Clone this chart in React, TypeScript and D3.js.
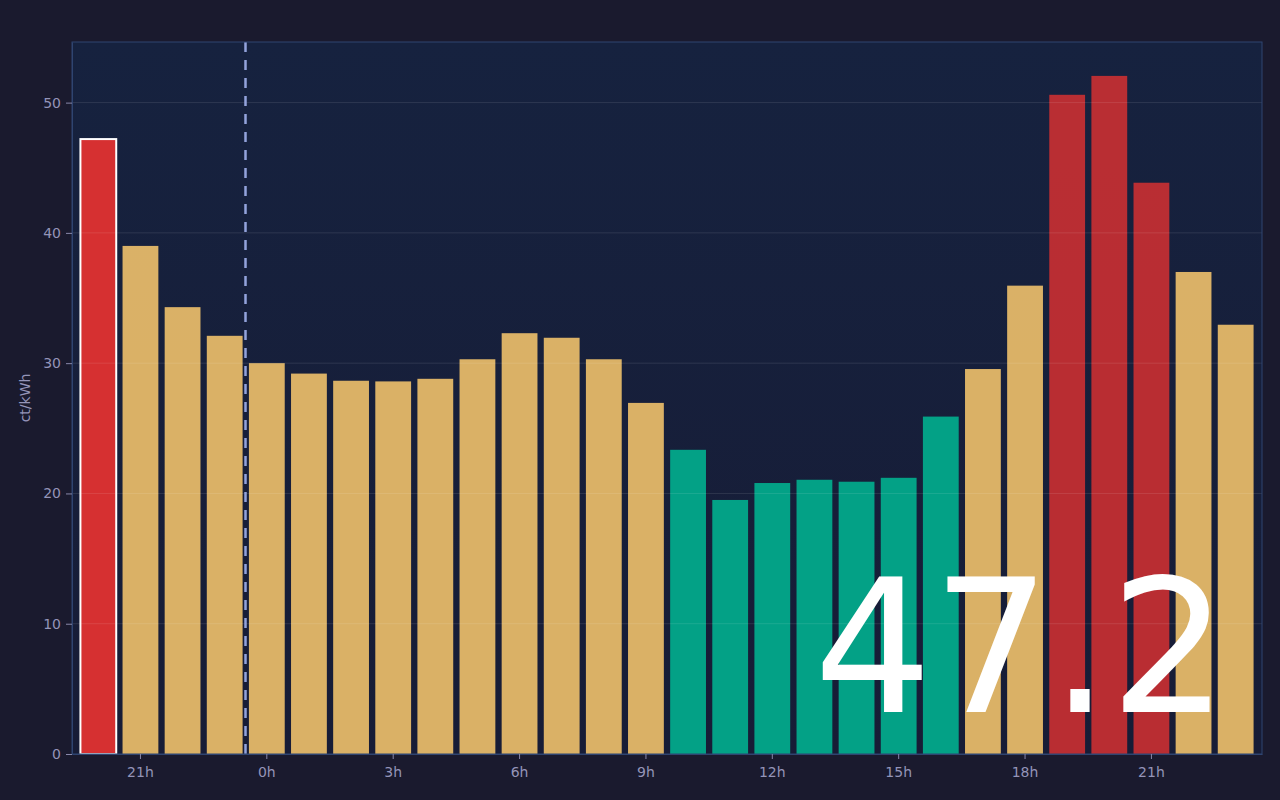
import React, { useEffect, useRef } from "react";
import * as d3 from "d3";

// hours shown, starting at 20h today through 23h tomorrow
const hours = [20, 21, 22, 23, 0, 1, 2, 3, 4, 5, 6, 7, 8, 9, 10, 11, 12, 13, 14, 15, 16, 17, 18, 19, 20, 21, 22, 23];
const prices = [
  47.2, 39.0, 34.3, 32.1, 30.0, 29.2, 28.65, 28.6, 28.8, 30.3, 32.3, 31.95, 30.3, 26.95,
  23.35, 19.5, 20.8, 21.05, 20.9, 21.2, 25.9, 29.55, 35.95, 50.6, 52.05, 43.85, 37.0, 32.95,
];
const currentIndex = 0;
const yTicks = [0, 10, 20, 30, 40, 50];
const unitLabel = "ct/kWh";

const W = 1280;
const H = 800;

const App: React.FC = () => {
  const svgRef = useRef<SVGSVGElement | null>(null);

  useEffect(() => {
    if (!svgRef.current) return;
    const margin = { top: 42, right: 18, bottom: 46, left: 72 };
    const width = W - margin.left - margin.right;
    const height = H - margin.top - margin.bottom;

    const root = d3.select(svgRef.current);
    root.selectAll("*").remove();
    root.attr("width", W).attr("height", H);

    const defs = root.append("defs");
    const grad = defs.append("linearGradient")
      .attr("id", "plotbg")
      .attr("x1", 0).attr("y1", 0).attr("x2", 0).attr("y2", 1);
    grad.append("stop").attr("offset", "0%").attr("stop-color", "#16223f");
    grad.append("stop").attr("offset", "100%").attr("stop-color", "#171c36");

    root.append("rect").attr("width", W).attr("height", H).attr("fill", "#1a1a2e");

    const svg = root.append("g").attr("transform", `translate(${margin.left},${margin.top})`);

    svg.append("rect")
      .attr("width", width)
      .attr("height", height)
      .attr("fill", "url(#plotbg)");

    const x = d3.scaleBand<number>()
      .domain(d3.range(prices.length))
      .range([0, width])
      .paddingInner(0.15)
      .paddingOuter(0.2);

    const y = d3.scaleLinear()
      .domain([0, (d3.max(prices) || 0) * 1.05])
      .range([height, 0]);

    const colour = (v: number) => (v < 26.5 ? "#00b894" : v > 40 ? "#d63031" : "#fdcb6e");

    // bars
    svg.append("g")
      .selectAll("rect")
      .data(prices)
      .enter()
      .append("rect")
      .attr("x", (d, i) => x(i)!)
      .attr("y", d => y(d))
      .attr("width", x.bandwidth())
      .attr("height", d => height - y(d))
      .attr("fill", d => colour(d))
      .attr("fill-opacity", (d, i) => (i === currentIndex ? 1 : 0.85))
      .attr("stroke", (d, i) => (i === currentIndex ? "#ffffff" : "none"))
      .attr("stroke-width", 2);

    // grid lines on top of the bars
    svg.append("g")
      .selectAll("line")
      .data(yTicks.filter(t => t > 0))
      .enter()
      .append("line")
      .attr("x1", 0)
      .attr("x2", width)
      .attr("y1", d => y(d))
      .attr("y2", d => y(d))
      .attr("stroke", "#ffffff")
      .attr("stroke-opacity", 0.1);

    // midnight marker
    const midIdx = hours.indexOf(0);
    const midX = Math.round((x(midIdx - 1)! + x.bandwidth() + x(midIdx)!) / 2) - 0.5;
    svg.append("line")
      .attr("x1", midX).attr("x2", midX)
      .attr("y1", 0).attr("y2", height)
      .attr("stroke", "#93a3dc")
      .attr("stroke-width", 2.5)
      .attr("stroke-dasharray", "10,8");

    // plot border
    svg.append("rect")
      .attr("width", width)
      .attr("height", height)
      .attr("fill", "none")
      .attr("stroke", "#2f4470")
      .attr("stroke-width", 1);

    const tickIdx = d3.range(prices.length).filter(i => hours[i] % 3 === 0);
    const xAxis = svg.append("g")
      .attr("transform", `translate(0,${height})`)
      .call(d3.axisBottom(x).tickValues(tickIdx).tickFormat(i => `${hours[i as number]}h`).tickSize(5).tickSizeOuter(0));
    const yAxis = svg.append("g")
      .call(d3.axisLeft(y).tickValues(yTicks).tickSize(6).tickSizeOuter(0));

    [xAxis, yAxis].forEach(a => {
      a.select(".domain").attr("stroke", "#2f4470");
      a.selectAll(".tick line").attr("stroke", "#8888aa");
      a.selectAll(".tick text")
        .attr("fill", "#9494b8")
        .style("font-size", "14px")
        .style("font-family", "DejaVu Sans");
    });
    xAxis.selectAll(".tick text").attr("dy", "1.1em");
    yAxis.selectAll(".tick text").attr("x", -11);

    svg.append("text")
      .attr("transform", `translate(${-42},${height / 2}) rotate(-90)`)
      .attr("text-anchor", "middle")
      .attr("fill", "#9494b8")
      .style("font-size", "14px")
      .style("font-family", "DejaVu Sans")
      .text(unitLabel);

    // big current price
    svg.append("text")
      .attr("x", width - 34)
      .attr("y", height - 42)
      .attr("text-anchor", "end")
      .attr("fill", "#ffffff")
      .style("font-size", "186px")
      .style("font-family", "DejaVu Sans")
      .text(prices[currentIndex].toFixed(1));
  }, []);

  return <svg ref={svgRef} style={{ position: "fixed", left: 0, top: 0, display: "block" }}></svg>;
};

export default App;
